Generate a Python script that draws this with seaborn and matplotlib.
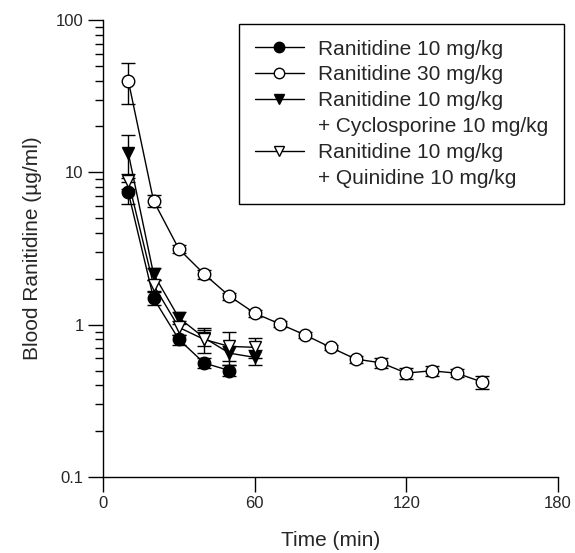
import numpy as np
import pandas as pd
import matplotlib
matplotlib.use('Agg')
import matplotlib.pyplot as plt
import seaborn as sns
from matplotlib.lines import Line2D
from matplotlib.ticker import LogLocator, FixedLocator, NullFormatter

sns.set_style('ticks')
plt.rcParams['font.family'] = ['Liberation Sans', 'DejaVu Sans']

# ranitidine 10 mg/kg
t_r10 = [10, 20, 30, 40, 50]
c_r10 = [7.4, 1.49, 0.80, 0.56, 0.50]
e_r10 = [1.2, 0.15, 0.06, 0.04, 0.04]

# ranitidine 30 mg/kg
t_r30 = [10, 20, 30, 40, 50, 60, 70, 80, 90, 100, 110, 120, 130, 140, 150]
c_r30 = [40.0, 6.5, 3.14, 2.15, 1.54, 1.19, 1.01, 0.855, 0.71, 0.594, 0.562, 0.481, 0.498, 0.48, 0.42]
e_r30 = [12.0, 0.6, 0.2, 0.15, 0.08, 0.06, 0.05, 0.04, 0.03, 0.03, 0.04, 0.04, 0.04, 0.03, 0.04]

# + cyclosporine
t_cyc = [10, 20, 30, 40, 50, 60]
c_cyc = [13.4, 2.15, 1.11, 0.82, 0.65, 0.61]
e_cyc = [4.2, 0.2, 0.1, 0.1, 0.07, 0.07]

# + quinidine
t_qui = [10, 20, 30, 40, 50, 60]
c_qui = [8.8, 1.82, 0.96, 0.80, 0.72, 0.71]
e_qui = [1.0, 0.15, 0.1, 0.15, 0.18, 0.11]

labels = ['Ranitidine 10 mg/kg', 'Ranitidine 30 mg/kg',
          'Ranitidine 10 mg/kg', 'Ranitidine 10 mg/kg']
extra = [None, None, '+ Cyclosporine 10 mg/kg', '+ Quinidine 10 mg/kg']
markers = ['o', 'o', 'v', 'v']
faces = ['black', 'white', 'black', 'white']

groups = [(t_r10, c_r10, e_r10), (t_r30, c_r30, e_r30),
          (t_cyc, c_cyc, e_cyc), (t_qui, c_qui, e_qui)]

fig = plt.figure(figsize=(5.75, 5.53), dpi=100)
ax = fig.add_axes([103/575, 1-477/553, 455/575, 457/553])

handles = []
for i, (t, c, e) in enumerate(groups):
    df = pd.DataFrame({'time': t, 'conc': c})
    ax.errorbar(t, c, yerr=e, fmt='none', ecolor='black', elinewidth=1.0,
                capsize=5, capthick=1.0, zorder=2)
    sns.lineplot(data=df, x='time', y='conc', ax=ax, color='black', lw=1.0,
                 marker=markers[i], markersize=9, markerfacecolor=faces[i],
                 markeredgecolor='black', markeredgewidth=1.0, zorder=3,
                 errorbar=None, legend=False)
    handles.append(Line2D([], [], color='black', lw=1.0, marker=markers[i],
                          markersize=7.5, markerfacecolor=faces[i],
                          markeredgecolor='black', label=labels[i]))
    if extra[i]:
        # second line of the label, no symbol
        handles.append(Line2D([], [], linestyle='none', marker=None, label=extra[i]))

ax.set_yscale('log')
ax.set_xlim(0, 180)
ax.set_ylim(0.1, 100)
ax.xaxis.set_major_locator(FixedLocator([0, 60, 120, 180]))
ax.set_yticks([0.1, 1, 10, 100])
ax.set_yticklabels(['0.1', '1', '10', '100'])
ax.yaxis.set_minor_locator(LogLocator(base=10, subs=np.arange(2, 10)))
ax.yaxis.set_minor_formatter(NullFormatter())

sns.despine(ax=ax)
for s in ['left', 'bottom']:
    ax.spines[s].set_linewidth(1.0)
    ax.spines[s].set_color('black')
ax.tick_params(axis='both', which='major', direction='out', length=11,
               width=1.0, color='black', labelsize=12, pad=3)
ax.tick_params(axis='y', which='minor', direction='out', length=5.5,
               width=1.0, color='black')

ax.set_xlabel('Time (min)', fontsize=15, labelpad=14)
ax.set_ylabel('Blood Ranitidine (µg/ml)', fontsize=15, labelpad=10)

leg = ax.legend(handles=handles, loc='upper right', fontsize=15,
                bbox_to_anchor=(564/575, 1-24/553), bbox_transform=fig.transFigure,
                borderaxespad=0, frameon=True, fancybox=False, edgecolor='black',
                framealpha=1, handlelength=2.35, handletextpad=0.7,
                labelspacing=0.33, borderpad=0.75)
leg.get_frame().set_linewidth(1.0)

fig.savefig('out.png', dpi=100)
